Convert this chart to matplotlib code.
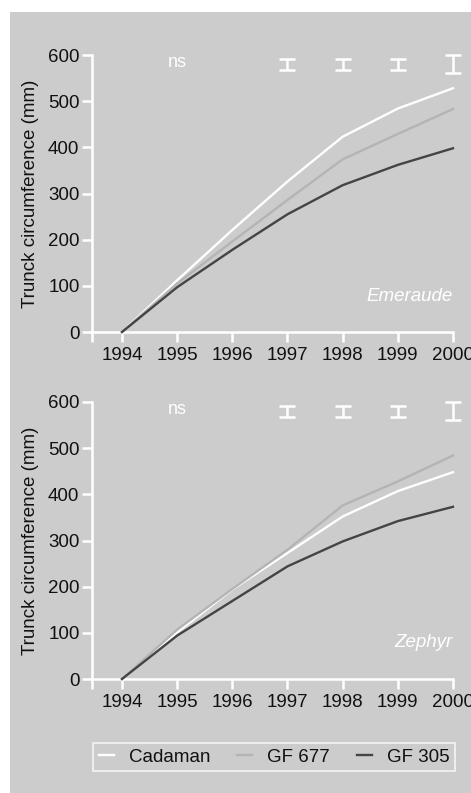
import matplotlib.pyplot as plt
from matplotlib.patches import Rectangle

plt.rcParams['font.family'] = ['Liberation Sans', 'DejaVu Sans']

years = [1994, 1995, 1996, 1997, 1998, 1999, 2000]
series_names = ["Cadaman", "GF 677", "GF 305"]
series_colors = ["#ffffff", "#b4b4b4", "#444444"]

# Emeraude (upper panel)
emeraude_cadaman = [0, 112, 221, 326, 423, 484, 528]
emeraude_gf677 = [0, 105, 196, 286, 374, 429, 483]
emeraude_gf305 = [0, 97, 178, 255, 318, 362, 398]

# Zephyr (lower panel)
zephyr_cadaman = [0, 101, 194, 273, 352, 407, 448]
zephyr_gf677 = [0, 107, 195, 280, 376, 428, 484]
zephyr_gf305 = [0, 94, 169, 244, 298, 342, 373]

# significance marks: ns at 1995, LSD bars from 1997
ns_year = 1995
bar_years = [1997, 1998, 1999, 2000]
bar_center = [580, 580, 580, 580]
bar_half = [12, 12, 12, 20]

bg = "#cccccc"
fs = 13.5
fig = plt.figure(figsize=(4.71, 7.93), dpi=100)
fig.patch.set_facecolor("white")
fig.patches.append(Rectangle((10 / 471, 0), 1, 1 - 12 / 793, transform=fig.transFigure,
                             facecolor=bg, edgecolor="none", zorder=-10))

xleft = 1994 - 30 / 55.2


def panel(ax, data, name, name_y):
    ax.set_facecolor("none")
    for vals, col in zip(data, series_colors):
        ax.plot(years, vals, color=col, lw=1.7, clip_on=False, zorder=3)
    ax.set_xlim(xleft, 2000)
    ax.set_ylim(0, 600)
    ax.set_xticks(years)
    ax.set_xticks([xleft], minor=True)
    ax.set_yticks([0, 100, 200, 300, 400, 500, 600])
    for s in ["top", "right"]:
        ax.spines[s].set_visible(False)
    for s in ["left", "bottom"]:
        ax.spines[s].set_color("white")
        ax.spines[s].set_linewidth(1.8)
    ax.tick_params(which="both", color="white", width=1.8, length=7, labelsize=fs,
                   labelcolor="#111111")
    ax.tick_params(axis="x", pad=4)
    ax.tick_params(axis="y", pad=2)
    ax.set_ylabel("Trunck circumference (mm)", fontsize=fs, color="#111111")
    ax.yaxis.set_label_coords(-0.147, 0.5)
    ax.text(ns_year, 583, "ns", color="white", fontsize=13, ha="center", va="center")
    ax.errorbar(bar_years, bar_center, yerr=bar_half, fmt="none", ecolor="white",
                elinewidth=1.8, capsize=5.5, capthick=1.8, clip_on=False)
    ax.text(2000, name_y, name, color="white", fontsize=fs, style="italic",
            ha="right", va="center")


ax1 = fig.add_axes([92 / 471, 1 - 332 / 793, 361 / 471, 277 / 793])
panel(ax1, [emeraude_cadaman, emeraude_gf677, emeraude_gf305], "Emeraude", 76)

ax2 = fig.add_axes([92 / 471, 1 - 679 / 793, 361 / 471, 277 / 793])
panel(ax2, [zephyr_cadaman, zephyr_gf677, zephyr_gf305], "Zephyr", 80)

handles = [plt.Line2D([], [], color=c, lw=1.7) for c in series_colors]
leg = fig.legend(handles, series_names, loc="center", ncol=3, mode="expand",
                 bbox_to_anchor=(93 / 471, 1 - 773 / 793, 362 / 471, 32 / 793),
                 bbox_transform=fig.transFigure, fontsize=fs, frameon=True,
                 fancybox=False, handlelength=0.8, handletextpad=0.8,
                 borderaxespad=0, borderpad=0.3)
leg.get_frame().set_facecolor("none")
leg.get_frame().set_edgecolor("white")
leg.get_frame().set_linewidth(1.2)
for t in leg.get_texts():
    t.set_color("#111111")

fig.savefig("out.png", dpi=100)
